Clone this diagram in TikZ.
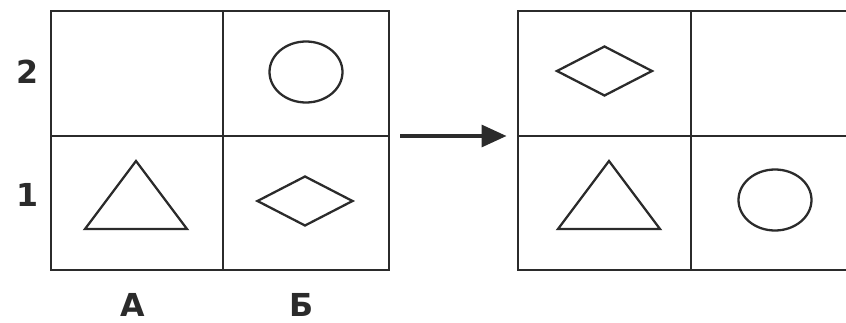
\documentclass[tikz,border=0pt]{standalone}
\usepackage{fontspec}
\setmainfont{DejaVu Sans}
\usetikzlibrary{arrows.meta,positioning,fit}
\definecolor{ink}{HTML}{2B2B2B}
\tikzset{
  frame/.style={draw=ink,line width=1.7pt,inner sep=0pt},
  gridline/.style={draw=ink,line width=1.7pt},
  figline/.style={draw=ink,line width=1.3pt},
  lab/.style={font=\fontsize{18}{18}\selectfont\bfseries,text=ink,inner sep=0pt},
  flowarr/.style={-{Triangle[length=0.5cm,width=0.44cm]},line width=1.9pt,draw=ink}
}

\begin{document}
\begin{tikzpicture}[x=0.02cm,y=0.02cm]
  \useasboundingbox (0,0) rectangle (846,322);
  \clip (0,0) rectangle (846,322);
  % the two tables
  \node[frame,fit={(51,52) (389,311)}] (gridA) {};
  \node[frame,fit={(518,52) (857,311)}] (gridB) {};
  \coordinate (rowA) at (51,186);
  \draw[gridline] (223,311) -- (223,52);
  \draw[gridline] (691,311) -- (691,52);
  \draw[gridline] (51,186) -- (389,186);
  \draw[gridline] (518,186) -- (857,186);
  % figures
  \foreach \cx/\cy in {306/250, 775/122}{
    \draw[figline] (\cx,\cy) ellipse [x radius=36.5,y radius=30.5];
  }
  \foreach \cx in {136,609}{
    \draw[figline] (\cx,161) -- (\cx+51,93) -- (\cx-51,93) -- cycle;
  }
  \foreach \cx/\cy in {305/121, 604.5/251}{
    \draw[figline] (\cx-47.5,\cy) -- (\cx,\cy+24.5) -- (\cx+47.5,\cy) -- (\cx,\cy-24.5) -- cycle;
  }
  % labels
  \node[lab] (row2) at (28,250.5) {2};
  \node[lab] (row1) at (28,127) {1};
  \node[lab] (colA) at (132.5,17) {А};
  \node[lab] (colB) at (302,17) {Б};
  \draw[flowarr,shorten <=0.2cm,shorten >=0.2cm] (gridA.east |- rowA) -- (gridB.west |- rowA);
\end{tikzpicture}
\end{document}
